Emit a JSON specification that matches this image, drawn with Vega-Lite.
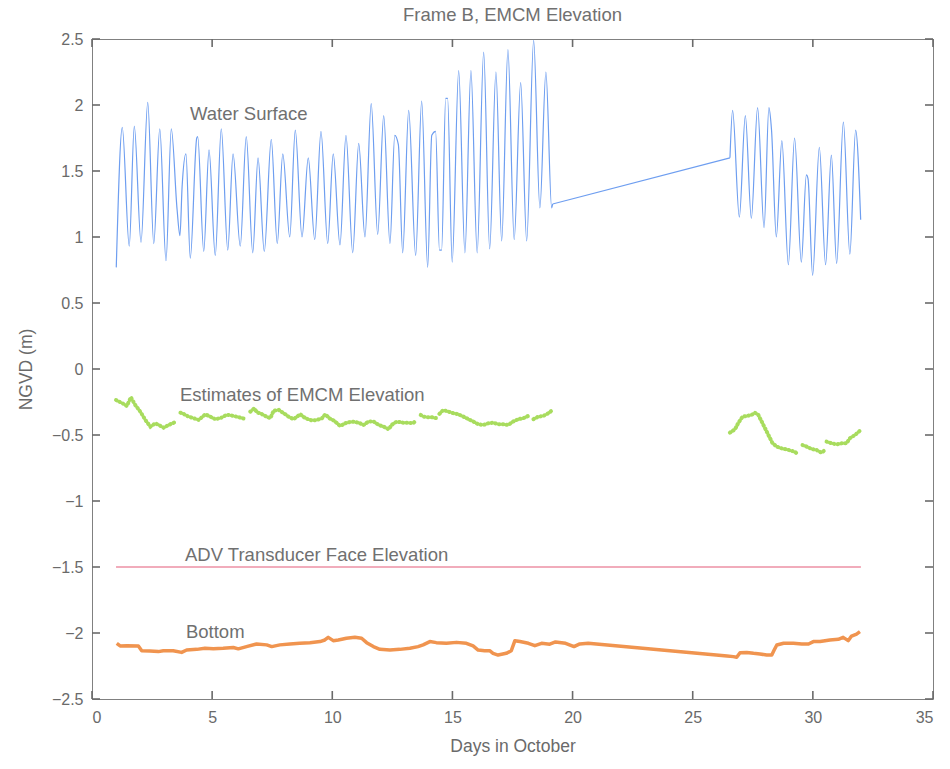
{
  "$schema": "https://vega.github.io/schema/vega-lite/v6.json",
  "autosize": "none",
  "width": 841,
  "height": 660,
  "padding": {"left": 92, "top": 39, "right": 17, "bottom": 70},
  "background": "white",
  "title": {
    "text": "Frame B, EMCM Elevation",
    "font": "Liberation Sans",
    "fontSize": 18.5,
    "fontWeight": "normal",
    "color": "#707070",
    "offset": 7
  },
  "config": {
    "view": {"stroke": "#808080", "strokeWidth": 1},
    "axis": {
      "grid": false,
      "domain": false,
      "ticks": false,
      "labelColor": "#6a6a6a",
      "titleColor": "#6a6a6a",
      "labelFont": "Liberation Sans",
      "titleFont": "Liberation Sans",
      "labelFontSize": 16,
      "titleFontSize": 17.5,
      "titleFontWeight": "normal"
    }
  },
  "datasets": {
    "xTicks": [
      {"day": 0}, {"day": 5}, {"day": 10}, {"day": 15}, {"day": 20}, {"day": 25}, {"day": 30}, {"day": 35}
    ],
    "yTicks": [
      {"v": -2.5}, {"v": -2}, {"v": -1.5}, {"v": -1}, {"v": -0.5}, {"v": 0}, {"v": 0.5}, {"v": 1}, {"v": 1.5}, {"v": 2}, {"v": 2.5}
    ],
    "water": [
      {"part": 1, "day": 1.01, "v": 0.77}, {"part": 1, "day": 1.26, "v": 1.83}, {"part": 1, "day": 1.55, "v": 0.93}, {"part": 1, "day": 1.76, "v": 1.84},
      {"part": 1, "day": 2.04, "v": 0.96}, {"part": 1, "day": 2.32, "v": 2.02}, {"part": 1, "day": 2.57, "v": 0.95}, {"part": 1, "day": 2.82, "v": 1.82},
      {"part": 1, "day": 3.08, "v": 0.82}, {"part": 1, "day": 3.30, "v": 1.82}, {"part": 1, "day": 3.54, "v": 1.21}, {"part": 1, "day": 3.66, "v": 1.01},
      {"part": 1, "day": 3.75, "v": 1.38}, {"part": 1, "day": 3.91, "v": 1.63}, {"part": 1, "day": 4.09, "v": 0.84}, {"part": 1, "day": 4.36, "v": 1.75},
      {"part": 1, "day": 4.40, "v": 1.76}, {"part": 1, "day": 4.65, "v": 0.89}, {"part": 1, "day": 4.87, "v": 1.66}, {"part": 1, "day": 5.13, "v": 0.86},
      {"part": 1, "day": 5.38, "v": 1.82}, {"part": 1, "day": 5.65, "v": 0.90}, {"part": 1, "day": 5.87, "v": 1.63}, {"part": 1, "day": 6.17, "v": 0.93},
      {"part": 1, "day": 6.42, "v": 1.76}, {"part": 1, "day": 6.69, "v": 0.88}, {"part": 1, "day": 6.91, "v": 1.60}, {"part": 1, "day": 7.17, "v": 0.89},
      {"part": 1, "day": 7.46, "v": 1.74}, {"part": 1, "day": 7.71, "v": 0.95}, {"part": 1, "day": 7.94, "v": 1.63}, {"part": 1, "day": 8.23, "v": 1.00},
      {"part": 1, "day": 8.46, "v": 1.81}, {"part": 1, "day": 8.74, "v": 1.00}, {"part": 1, "day": 9.00, "v": 1.60}, {"part": 1, "day": 9.27, "v": 0.98},
      {"part": 1, "day": 9.53, "v": 1.80}, {"part": 1, "day": 9.81, "v": 0.95}, {"part": 1, "day": 10.04, "v": 1.63}, {"part": 1, "day": 10.32, "v": 0.94},
      {"part": 1, "day": 10.57, "v": 1.77}, {"part": 1, "day": 10.85, "v": 0.88}, {"part": 1, "day": 11.10, "v": 1.71}, {"part": 1, "day": 11.36, "v": 1.00},
      {"part": 1, "day": 11.62, "v": 2.01}, {"part": 1, "day": 11.89, "v": 1.02}, {"part": 1, "day": 12.14, "v": 1.92}, {"part": 1, "day": 12.40, "v": 0.95},
      {"part": 1, "day": 12.60, "v": 1.77}, {"part": 1, "day": 12.75, "v": 1.70}, {"part": 1, "day": 12.93, "v": 0.88}, {"part": 1, "day": 13.18, "v": 1.96},
      {"part": 1, "day": 13.47, "v": 0.86}, {"part": 1, "day": 13.72, "v": 2.03}, {"part": 1, "day": 13.97, "v": 0.77}, {"part": 1, "day": 14.14, "v": 1.77},
      {"part": 1, "day": 14.30, "v": 1.80}, {"part": 1, "day": 14.46, "v": 0.90}, {"part": 1, "day": 14.55, "v": 0.90}, {"part": 1, "day": 14.72, "v": 2.05},
      {"part": 1, "day": 14.80, "v": 2.05}, {"part": 1, "day": 14.99, "v": 0.81}, {"part": 1, "day": 15.26, "v": 2.26}, {"part": 1, "day": 15.52, "v": 0.88},
      {"part": 1, "day": 15.77, "v": 2.26}, {"part": 1, "day": 16.03, "v": 0.88}, {"part": 1, "day": 16.30, "v": 2.40}, {"part": 1, "day": 16.55, "v": 0.91},
      {"part": 1, "day": 16.81, "v": 2.25}, {"part": 1, "day": 17.05, "v": 0.97}, {"part": 1, "day": 17.31, "v": 2.42}, {"part": 1, "day": 17.57, "v": 0.98},
      {"part": 1, "day": 17.84, "v": 2.17}, {"part": 1, "day": 18.09, "v": 0.97}, {"part": 1, "day": 18.38, "v": 2.49}, {"part": 1, "day": 18.64, "v": 1.22},
      {"part": 1, "day": 18.89, "v": 2.25}, {"part": 1, "day": 19.13, "v": 1.22}, {"part": 1, "day": 19.17, "v": 1.25},
      {"part": 2, "day": 26.55, "v": 1.60},
      {"part": 2, "day": 26.66, "v": 1.96}, {"part": 2, "day": 26.94, "v": 1.15}, {"part": 2, "day": 27.19, "v": 1.92}, {"part": 2, "day": 27.44, "v": 1.14},
      {"part": 2, "day": 27.70, "v": 1.98}, {"part": 2, "day": 27.97, "v": 1.07}, {"part": 2, "day": 28.17, "v": 1.98}, {"part": 2, "day": 28.28, "v": 1.81},
      {"part": 2, "day": 28.48, "v": 1.00}, {"part": 2, "day": 28.71, "v": 1.73}, {"part": 2, "day": 28.98, "v": 0.79}, {"part": 2, "day": 29.24, "v": 1.75},
      {"part": 2, "day": 29.52, "v": 0.81}, {"part": 2, "day": 29.73, "v": 1.47}, {"part": 2, "day": 29.80, "v": 1.44}, {"part": 2, "day": 29.99, "v": 0.71},
      {"part": 2, "day": 30.27, "v": 1.68}, {"part": 2, "day": 30.53, "v": 0.79}, {"part": 2, "day": 30.77, "v": 1.62}, {"part": 2, "day": 30.99, "v": 0.80},
      {"part": 2, "day": 31.27, "v": 1.87}, {"part": 2, "day": 31.54, "v": 0.87}, {"part": 2, "day": 31.78, "v": 1.81}, {"part": 2, "day": 31.99, "v": 1.13}
    ],
    "waterGap": [
      {"day": 19.17, "v": 1.25}, {"day": 26.55, "v": 1.60}
    ],
    "emcm": [
      {"seg": 1, "day": 1.00, "v": -0.235}, {"seg": 1, "day": 1.32, "v": -0.265}, {"seg": 1, "day": 1.45, "v": -0.28},
      {"seg": 1, "day": 1.62, "v": -0.215}, {"seg": 1, "day": 1.80, "v": -0.273}, {"seg": 1, "day": 2.01, "v": -0.323},
      {"seg": 1, "day": 2.22, "v": -0.386}, {"seg": 1, "day": 2.43, "v": -0.437}, {"seg": 1, "day": 2.64, "v": -0.411},
      {"seg": 1, "day": 2.84, "v": -0.43}, {"seg": 1, "day": 2.98, "v": -0.445}, {"seg": 1, "day": 3.19, "v": -0.424},
      {"seg": 1, "day": 3.40, "v": -0.407}, {"seg": 1, "day": 3.54, "v": -0.40},
      {"seg": 2, "day": 3.68, "v": -0.331}, {"seg": 2, "day": 3.81, "v": -0.34}, {"seg": 2, "day": 4.02, "v": -0.361},
      {"seg": 2, "day": 4.23, "v": -0.373}, {"seg": 2, "day": 4.44, "v": -0.386}, {"seg": 2, "day": 4.72, "v": -0.343},
      {"seg": 2, "day": 4.92, "v": -0.361}, {"seg": 2, "day": 5.13, "v": -0.38}, {"seg": 2, "day": 5.34, "v": -0.373},
      {"seg": 2, "day": 5.55, "v": -0.352}, {"seg": 2, "day": 5.69, "v": -0.348}, {"seg": 2, "day": 5.90, "v": -0.356},
      {"seg": 2, "day": 6.10, "v": -0.365}, {"seg": 2, "day": 6.41, "v": -0.38},
      {"seg": 3, "day": 6.59, "v": -0.323}, {"seg": 3, "day": 6.75, "v": -0.298}, {"seg": 3, "day": 6.87, "v": -0.33},
      {"seg": 3, "day": 7.00, "v": -0.335}, {"seg": 3, "day": 7.21, "v": -0.356}, {"seg": 3, "day": 7.42, "v": -0.373},
      {"seg": 3, "day": 7.56, "v": -0.316}, {"seg": 3, "day": 7.77, "v": -0.31}, {"seg": 3, "day": 7.98, "v": -0.335},
      {"seg": 3, "day": 8.18, "v": -0.361}, {"seg": 3, "day": 8.39, "v": -0.38}, {"seg": 3, "day": 8.67, "v": -0.343},
      {"seg": 3, "day": 8.88, "v": -0.373}, {"seg": 3, "day": 9.16, "v": -0.39}, {"seg": 3, "day": 9.36, "v": -0.386},
      {"seg": 3, "day": 9.57, "v": -0.373}, {"seg": 3, "day": 9.71, "v": -0.343}, {"seg": 3, "day": 9.88, "v": -0.373},
      {"seg": 3, "day": 10.06, "v": -0.39}, {"seg": 3, "day": 10.20, "v": -0.411}, {"seg": 3, "day": 10.33, "v": -0.432},
      {"seg": 3, "day": 10.54, "v": -0.411}, {"seg": 3, "day": 10.82, "v": -0.398}, {"seg": 3, "day": 11.10, "v": -0.407},
      {"seg": 3, "day": 11.30, "v": -0.424}, {"seg": 3, "day": 11.51, "v": -0.398}, {"seg": 3, "day": 11.72, "v": -0.398},
      {"seg": 3, "day": 11.93, "v": -0.424}, {"seg": 3, "day": 12.14, "v": -0.437}, {"seg": 3, "day": 12.35, "v": -0.457},
      {"seg": 3, "day": 12.47, "v": -0.424}, {"seg": 3, "day": 12.68, "v": -0.398}, {"seg": 3, "day": 12.95, "v": -0.407},
      {"seg": 3, "day": 13.16, "v": -0.407}, {"seg": 3, "day": 13.37, "v": -0.411}, {"seg": 3, "day": 13.48, "v": -0.39},
      {"seg": 4, "day": 13.68, "v": -0.348}, {"seg": 4, "day": 13.80, "v": -0.361}, {"seg": 4, "day": 13.94, "v": -0.365},
      {"seg": 4, "day": 14.14, "v": -0.365}, {"seg": 4, "day": 14.35, "v": -0.373},
      {"seg": 5, "day": 14.46, "v": -0.34}, {"seg": 5, "day": 14.62, "v": -0.311}, {"seg": 5, "day": 14.83, "v": -0.323},
      {"seg": 5, "day": 15.04, "v": -0.335}, {"seg": 5, "day": 15.25, "v": -0.343}, {"seg": 5, "day": 15.46, "v": -0.361},
      {"seg": 5, "day": 15.67, "v": -0.38}, {"seg": 5, "day": 15.87, "v": -0.398}, {"seg": 5, "day": 16.08, "v": -0.419},
      {"seg": 5, "day": 16.29, "v": -0.424}, {"seg": 5, "day": 16.50, "v": -0.411}, {"seg": 5, "day": 16.70, "v": -0.407},
      {"seg": 5, "day": 16.91, "v": -0.419}, {"seg": 5, "day": 17.12, "v": -0.419}, {"seg": 5, "day": 17.32, "v": -0.424},
      {"seg": 5, "day": 17.53, "v": -0.398}, {"seg": 5, "day": 17.74, "v": -0.38}, {"seg": 5, "day": 17.95, "v": -0.373},
      {"seg": 5, "day": 18.15, "v": -0.356},
      {"seg": 6, "day": 18.37, "v": -0.38}, {"seg": 6, "day": 18.57, "v": -0.361}, {"seg": 6, "day": 18.78, "v": -0.356},
      {"seg": 6, "day": 18.99, "v": -0.335}, {"seg": 6, "day": 19.13, "v": -0.316},
      {"seg": 7, "day": 26.55, "v": -0.482}, {"seg": 7, "day": 26.76, "v": -0.457}, {"seg": 7, "day": 26.90, "v": -0.407},
      {"seg": 7, "day": 27.08, "v": -0.361}, {"seg": 7, "day": 27.25, "v": -0.356}, {"seg": 7, "day": 27.45, "v": -0.348},
      {"seg": 7, "day": 27.59, "v": -0.331}, {"seg": 7, "day": 27.73, "v": -0.348}, {"seg": 7, "day": 27.87, "v": -0.398},
      {"seg": 7, "day": 28.01, "v": -0.449}, {"seg": 7, "day": 28.15, "v": -0.50}, {"seg": 7, "day": 28.31, "v": -0.558},
      {"seg": 7, "day": 28.49, "v": -0.588}, {"seg": 7, "day": 28.70, "v": -0.601}, {"seg": 7, "day": 28.91, "v": -0.609},
      {"seg": 7, "day": 29.12, "v": -0.62}, {"seg": 7, "day": 29.26, "v": -0.627}, {"seg": 7, "day": 29.39, "v": -0.652},
      {"seg": 8, "day": 29.57, "v": -0.576}, {"seg": 8, "day": 29.74, "v": -0.588}, {"seg": 8, "day": 29.95, "v": -0.606},
      {"seg": 8, "day": 30.16, "v": -0.614}, {"seg": 8, "day": 30.36, "v": -0.634}, {"seg": 8, "day": 30.46, "v": -0.62},
      {"seg": 9, "day": 30.57, "v": -0.55}, {"seg": 9, "day": 30.78, "v": -0.563}, {"seg": 9, "day": 30.99, "v": -0.571},
      {"seg": 9, "day": 31.20, "v": -0.563}, {"seg": 9, "day": 31.40, "v": -0.563}, {"seg": 9, "day": 31.54, "v": -0.525},
      {"seg": 9, "day": 31.75, "v": -0.50}, {"seg": 9, "day": 31.96, "v": -0.467}
    ],
    "bottom": [
      {"day": 1.03, "v": -2.078}, {"day": 1.17, "v": -2.098}, {"day": 1.45, "v": -2.096}, {"day": 1.93, "v": -2.098},
      {"day": 2.07, "v": -2.134}, {"day": 2.41, "v": -2.136}, {"day": 2.76, "v": -2.141}, {"day": 2.97, "v": -2.134},
      {"day": 3.38, "v": -2.134}, {"day": 3.73, "v": -2.147}, {"day": 3.94, "v": -2.129}, {"day": 4.36, "v": -2.124},
      {"day": 4.70, "v": -2.116}, {"day": 5.05, "v": -2.12}, {"day": 5.46, "v": -2.116}, {"day": 5.88, "v": -2.11},
      {"day": 6.09, "v": -2.12}, {"day": 6.43, "v": -2.103}, {"day": 6.85, "v": -2.083}, {"day": 7.27, "v": -2.09},
      {"day": 7.48, "v": -2.103}, {"day": 7.82, "v": -2.09}, {"day": 8.24, "v": -2.083}, {"day": 8.65, "v": -2.078},
      {"day": 9.07, "v": -2.073}, {"day": 9.49, "v": -2.065}, {"day": 9.69, "v": -2.053}, {"day": 9.83, "v": -2.033},
      {"day": 10.04, "v": -2.058}, {"day": 10.25, "v": -2.053}, {"day": 10.59, "v": -2.04}, {"day": 10.94, "v": -2.033},
      {"day": 11.22, "v": -2.04}, {"day": 11.43, "v": -2.073}, {"day": 11.71, "v": -2.103}, {"day": 11.98, "v": -2.124},
      {"day": 12.40, "v": -2.129}, {"day": 12.81, "v": -2.124}, {"day": 13.23, "v": -2.116}, {"day": 13.57, "v": -2.103},
      {"day": 13.78, "v": -2.09}, {"day": 14.06, "v": -2.065}, {"day": 14.33, "v": -2.073}, {"day": 14.75, "v": -2.078},
      {"day": 15.17, "v": -2.071}, {"day": 15.58, "v": -2.078}, {"day": 15.86, "v": -2.098}, {"day": 16.07, "v": -2.129},
      {"day": 16.34, "v": -2.134}, {"day": 16.55, "v": -2.134}, {"day": 16.69, "v": -2.154}, {"day": 16.90, "v": -2.167},
      {"day": 17.24, "v": -2.154}, {"day": 17.45, "v": -2.134}, {"day": 17.60, "v": -2.058}, {"day": 17.81, "v": -2.065},
      {"day": 18.16, "v": -2.078}, {"day": 18.43, "v": -2.096}, {"day": 18.71, "v": -2.078}, {"day": 19.05, "v": -2.085},
      {"day": 19.29, "v": -2.068}, {"day": 19.71, "v": -2.078}, {"day": 20.06, "v": -2.103}, {"day": 20.30, "v": -2.083},
      {"day": 20.65, "v": -2.078}, {"day": 26.43, "v": -2.174}, {"day": 26.69, "v": -2.179}, {"day": 26.83, "v": -2.184},
      {"day": 26.97, "v": -2.149}, {"day": 27.25, "v": -2.147}, {"day": 27.53, "v": -2.154}, {"day": 27.80, "v": -2.159},
      {"day": 28.08, "v": -2.167}, {"day": 28.29, "v": -2.167}, {"day": 28.39, "v": -2.129}, {"day": 28.50, "v": -2.091},
      {"day": 28.78, "v": -2.078}, {"day": 29.19, "v": -2.078}, {"day": 29.54, "v": -2.083}, {"day": 29.82, "v": -2.083},
      {"day": 30.02, "v": -2.065}, {"day": 30.30, "v": -2.065}, {"day": 30.71, "v": -2.053}, {"day": 31.06, "v": -2.048},
      {"day": 31.26, "v": -2.033}, {"day": 31.47, "v": -2.058}, {"day": 31.61, "v": -2.023}, {"day": 31.82, "v": -2.008},
      {"day": 31.96, "v": -1.99}
    ],
    "adv": [
      {"day": 1.0, "v": -1.5}, {"day": 32.0, "v": -1.5}
    ],
    "labels": [
      {"day": 4.08, "v": 1.93, "text": "Water Surface"},
      {"day": 3.66, "v": -0.2, "text": "Estimates of EMCM Elevation"},
      {"day": 3.87, "v": -1.41, "text": "ADV Transducer Face Elevation"},
      {"day": 3.91, "v": -1.99, "text": "Bottom"}
    ]
  },
  "layer": [
    {
      "data": {"name": "water"},
      "mark": {"type": "line", "color": "#6e9ef0", "strokeWidth": 1.2, "interpolate": "monotone"},
      "encoding": {
        "x": {
          "field": "day", "type": "quantitative",
          "scale": {"domain": [0, 35], "nice": false, "zero": false},
          "axis": {"orient": "bottom", "values": [0, 5, 10, 15, 20, 25, 30, 35], "title": "Days in October", "labelPadding": 10, "titlePadding": 12, "format": "~g"}
        },
        "y": {
          "field": "v", "type": "quantitative",
          "scale": {"domain": [-2.5, 2.5], "nice": false, "zero": false},
          "axis": {"orient": "left", "values": [-2.5, -2, -1.5, -1, -0.5, 0, 0.5, 1, 1.5, 2, 2.5], "title": "NGVD (m)", "labelPadding": 9, "titlePadding": 16, "format": "~g"}
        },
        "detail": {"field": "part", "type": "nominal"}
      }
    },
    {
      "data": {"name": "waterGap"},
      "mark": {"type": "line", "color": "#6e9ef0", "strokeWidth": 1.2},
      "encoding": {
        "x": {"field": "day", "type": "quantitative"},
        "y": {"field": "v", "type": "quantitative"}
      }
    },
    {
      "data": {"name": "xTicks"},
      "mark": {"type": "tick", "orient": "vertical", "color": "#6a6a6a", "opacity": 1, "size": 8, "thickness": 1.6, "yOffset": -4},
      "encoding": {
        "x": {"field": "day", "type": "quantitative"},
        "y": {"datum": -2.5, "type": "quantitative"}
      }
    },
    {
      "data": {"name": "xTicks"},
      "mark": {"type": "tick", "orient": "vertical", "color": "#6a6a6a", "opacity": 1, "size": 8, "thickness": 1.6, "yOffset": 4},
      "encoding": {
        "x": {"field": "day", "type": "quantitative"},
        "y": {"datum": 2.5, "type": "quantitative"}
      }
    },
    {
      "data": {"name": "yTicks"},
      "mark": {"type": "tick", "orient": "horizontal", "color": "#6a6a6a", "opacity": 1, "size": 8, "thickness": 1.6, "xOffset": 4},
      "encoding": {
        "y": {"field": "v", "type": "quantitative"},
        "x": {"datum": 0, "type": "quantitative"}
      }
    },
    {
      "data": {"name": "yTicks"},
      "mark": {"type": "tick", "orient": "horizontal", "color": "#6a6a6a", "opacity": 1, "size": 8, "thickness": 1.6, "xOffset": -4},
      "encoding": {
        "y": {"field": "v", "type": "quantitative"},
        "x": {"datum": 35, "type": "quantitative"}
      }
    },
    {
      "data": {"name": "adv"},
      "mark": {"type": "line", "color": "#e45a78", "strokeWidth": 1.2},
      "encoding": {
        "x": {"field": "day", "type": "quantitative"},
        "y": {"field": "v", "type": "quantitative"}
      }
    },
    {
      "data": {"name": "emcm"},
      "mark": {"type": "line", "color": "#a8dc5e", "strokeWidth": 4, "strokeCap": "round", "strokeDash": [0.6, 3.2]},
      "encoding": {
        "x": {"field": "day", "type": "quantitative"},
        "y": {"field": "v", "type": "quantitative"},
        "detail": {"field": "seg", "type": "nominal"}
      }
    },
    {
      "data": {"name": "bottom"},
      "mark": {"type": "line", "color": "#f0944f", "strokeWidth": 3.5, "strokeJoin": "round"},
      "encoding": {
        "x": {"field": "day", "type": "quantitative"},
        "y": {"field": "v", "type": "quantitative"}
      }
    },
    {
      "data": {"name": "labels"},
      "mark": {"type": "text", "align": "left", "baseline": "middle", "font": "Liberation Sans", "fontSize": 18.5, "color": "#707070"},
      "encoding": {
        "x": {"field": "day", "type": "quantitative"},
        "y": {"field": "v", "type": "quantitative"},
        "text": {"field": "text"}
      }
    }
  ]
}
